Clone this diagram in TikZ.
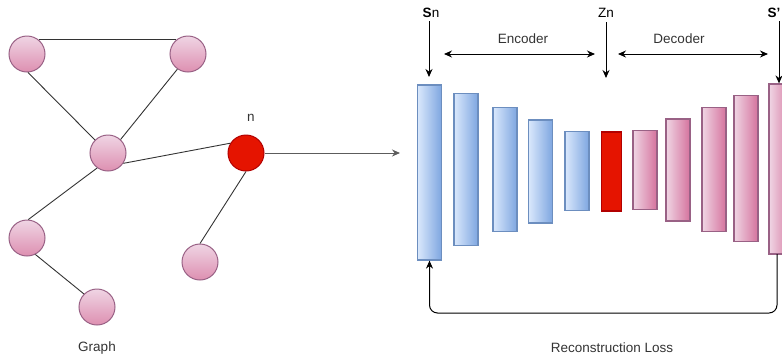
\documentclass[tikz,border=0pt]{standalone}
\usepackage{fontspec}
\setmainfont{Liberation Sans}
\usetikzlibrary{arrows.meta}
\definecolor{txtgray}{HTML}{333333}
\definecolor{blueedge}{HTML}{6C8EBF}
\definecolor{bluelight}{HTML}{DAE8FC}
\definecolor{bluedark}{HTML}{7EA6E0}
\definecolor{pinkedge}{HTML}{996185}
\definecolor{pinklight}{HTML}{EFD5E4}
\definecolor{pinkdark}{HTML}{D5739D}
\definecolor{redfill}{HTML}{E51400}
\definecolor{rededge}{HTML}{B20000}
\tikzset{
  vertex/.style={circle, draw=pinkedge, line width=1pt, minimum size=36pt, inner sep=0pt,
    top color=pinklight, bottom color=pinkdark!80},
  target/.style={circle, draw=rededge, line width=1pt, minimum size=36pt, inner sep=0pt, fill=redfill},
  edge/.style={draw=txtgray, line width=0.9pt},
  encbar/.style={rectangle, draw=blueedge, line width=1.2pt, minimum width=24pt, inner sep=0pt,
    left color=bluelight, right color=bluedark},
  decbar/.style={rectangle, draw=pinkedge, line width=1.2pt, minimum width=24pt, inner sep=0pt,
    left color=pinklight, right color=pinkdark},
  codebar/.style={rectangle, draw=rededge, line width=1.2pt, minimum width=20pt, inner sep=0pt,
    fill=redfill},
  lbl/.style={text=txtgray, font=\fontsize{13.5}{15}\selectfont, inner sep=0pt},
  arr/.style={draw=black, line width=1pt, -{Stealth[length=8pt,width=7pt]}},
  twoarr/.style={draw=black, line width=1pt, {Stealth[length=8pt,width=7pt]}-{Stealth[length=8pt,width=7pt]}}
}
\begin{document}
\begin{tikzpicture}[x=1pt,y=-1pt]
  \useasboundingbox (0,0) rectangle (782,360);
  % graph
  \node[vertex] (a) at (27,54) {};
  \node[vertex] (b) at (188,54) {};
  \node[vertex] (c) at (108,153) {};
  \node[target] (n) at (246,153) {};
  \node[vertex] (d) at (27,238) {};
  \node[vertex] (e) at (97,307) {};
  \node[vertex] (f) at (200,262) {};
  \node[lbl] (nlbl) at (251,118) {n};
  \node[lbl] (graph) at (97,348) {Graph};
  \draw[edge] (a.50) -- (b.130);
  \draw[edge] (a.-87) -- (c.135);
  \draw[edge] (b.235) -- (c.47);
  \draw[edge] (c.-34) -- (n.148);
  \draw[edge] (c.234) -- (d.86);
  \draw[edge] (d.-63) -- (e.135);
  \draw[edge] (n.south) -- (f.north);
  % autoencoder bars
  \node[encbar, minimum height=175pt] (b1) at (429.5,172.5) {};
  \node[encbar, minimum height=152pt] (b2) at (466,169.5) {};
  \node[encbar, minimum height=124pt] (b3) at (505,169.5) {};
  \node[encbar, minimum height=103pt] (b4) at (540.5,171.5) {};
  \node[encbar, minimum height=79pt] (b5) at (577,171) {};
  \node[codebar, minimum height=79pt] (b6) at (611.5,171.5) {};
  \node[decbar, minimum height=79pt] (b7) at (645,170) {};
  \node[decbar, minimum height=102pt] (b8) at (678,170) {};
  \node[decbar, minimum height=124pt] (b9) at (714,169.5) {};
  \node[decbar, minimum height=146pt] (b10) at (746,168.5) {};
  \node[decbar, minimum height=170pt] (b11) at (781,169) {};
  \draw[arr, draw=txtgray!80] (n) -- (400,153) coordinate (ain);
  % labels on top
  \node[lbl, text=black] (sn) at (431,13) {\textbf{S}n};
  \node[lbl, text=black] (zn) at (606,13) {Zn};
  \node[lbl, text=black] (sout) at (774,13) {\textbf{S'}};
  \draw[arr] (429,21) -- (429,77);
  \draw[arr] (606,22) -- (606,78);
  \draw[arr] (779,21) -- (b11.north -| 779,0);
  \coordinate (encl) at (444,54);
  \coordinate (encr) at (595,54);
  \coordinate (decl) at (618,54);
  \coordinate (decr) at (768,54);
  \draw[twoarr] (encl) -- (encr);
  \draw[twoarr] (decl) -- (decr);
  \node[lbl] (enc) at (523,39) {Encoder};
  \node[lbl] (dec) at (679,39) {Decoder};
  % loss loop
  \draw[arr, rounded corners=8pt] (777,254) -- (777,313) -| (b1.south);
  \node[lbl] (loss) at (612,348) {Reconstruction Loss};
\end{tikzpicture}
\end{document}
